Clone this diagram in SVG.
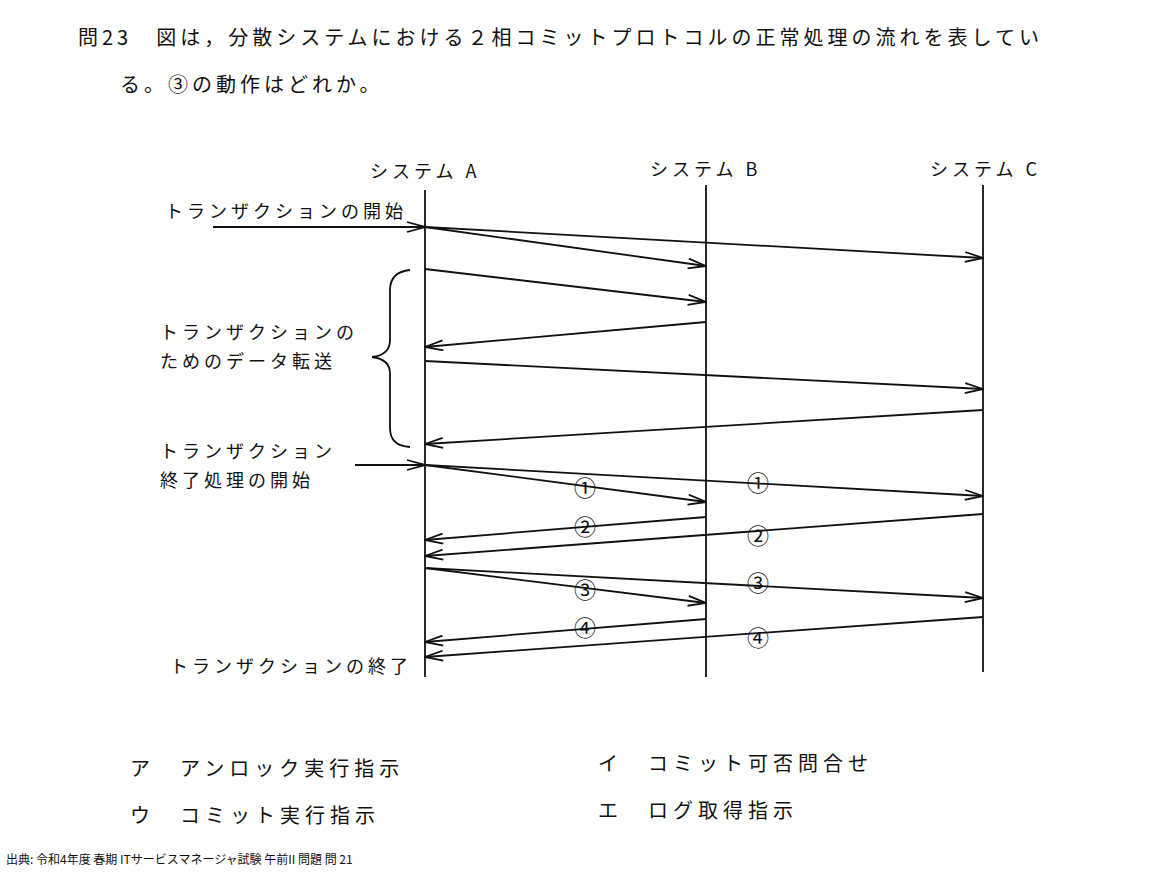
<svg xmlns="http://www.w3.org/2000/svg" width="1152" height="875" viewBox="0 0 1152 875">
<style>
text{font-family:"Noto Sans CJK JP","Noto Sans",sans-serif;fill:#111}
.t{font-size:20px;letter-spacing:4px}
.o{font-size:20px;letter-spacing:5px}
.l{font-size:18px;letter-spacing:4px}
.n{font-size:22px;text-anchor:middle}
.c line,.c path{stroke:#111;stroke-width:1.8;fill:none}
</style>
<defs>
<marker id="a" viewBox="0 0 20 12" refX="19" refY="6" markerWidth="20" markerHeight="12" markerUnits="userSpaceOnUse" orient="auto">
<path d="M1,1 L19,6 L1,11" fill="none" stroke="#111" stroke-width="1.8"/>
</marker>
</defs>
<rect width="1152" height="875" fill="#fff"/>
<text class="t" x="78" y="45">問23　図は，分散システムにおける２相コミットプロトコルの正常処理の流れを表してい</text>
<text class="t" x="120" y="92">る。③の動作はどれか。</text>
<g id="sysA"><text class="l" x="370" y="178">システム A</text></g>
<g id="sysB"><text class="l" x="650" y="176">システム B</text></g>
<g id="sysC"><text class="l" x="930" y="176">システム C</text></g>
<text class="l" x="165" y="218">トランザクションの開始</text>
<text class="l" x="160" y="339">トランザクションの</text>
<text class="l" x="160" y="368">ためのデータ転送</text>
<text class="l" x="160" y="458">トランザクション</text>
<text class="l" x="160" y="487">終了処理の開始</text>
<text class="l" x="170" y="673">トランザクションの終了</text>
<g class="c" id="connectors">
<line x1="425" y1="190" x2="425" y2="677"/>
<line x1="706" y1="185" x2="706" y2="677"/>
<line x1="983" y1="185" x2="983" y2="672"/>
<path d="M410,270 Q390,272 390,290 L390,340 Q390,355 372,357 Q390,359 390,374 L390,428 Q390,446 410,447"/>
<line x1="213" y1="227" x2="425" y2="227" marker-end="url(#a)"/>
<line x1="425" y1="227" x2="706" y2="266" marker-end="url(#a)"/>
<line x1="425" y1="227" x2="983" y2="258" marker-end="url(#a)"/>
<line x1="425" y1="269" x2="706" y2="302" marker-end="url(#a)"/>
<line x1="706" y1="322" x2="425" y2="347" marker-end="url(#a)"/>
<line x1="425" y1="361" x2="983" y2="389" marker-end="url(#a)"/>
<line x1="983" y1="410" x2="425" y2="444" marker-end="url(#a)"/>
<line x1="355" y1="465" x2="425" y2="465" marker-end="url(#a)"/>
<line x1="425" y1="465" x2="706" y2="502" marker-end="url(#a)"/>
<line x1="425" y1="465" x2="983" y2="496" marker-end="url(#a)"/>
<line x1="706" y1="517" x2="425" y2="540" marker-end="url(#a)"/>
<line x1="983" y1="514" x2="425" y2="556" marker-end="url(#a)"/>
<line x1="425" y1="568" x2="706" y2="603" marker-end="url(#a)"/>
<line x1="425" y1="568" x2="983" y2="598" marker-end="url(#a)"/>
<line x1="706" y1="619" x2="425" y2="642" marker-end="url(#a)"/>
<line x1="983" y1="617" x2="425" y2="657" marker-end="url(#a)"/>
</g>
<g id="labels">
<text class="n" x="585" y="496">①</text>
<text class="n" x="758" y="491">①</text>
<text class="n" x="585" y="535">②</text>
<text class="n" x="758" y="544">②</text>
<text class="n" x="585" y="598">③</text>
<text class="n" x="758" y="591">③</text>
<text class="n" x="585" y="636">④</text>
<text class="n" x="758" y="646">④</text>
</g>
<text class="o" x="130" y="776">ア　アンロック実行指示</text>
<text class="o" x="598" y="771">イ　コミット可否問合せ</text>
<text class="o" x="130" y="823">ウ　コミット実行指示</text>
<text class="o" x="598" y="818">エ　ログ取得指示</text>
<text x="6" y="864" style="font-size:12px">出典: 令和4年度 春期 ITサービスマネージャ試験 午前II 問題 問 21</text>
</svg>
